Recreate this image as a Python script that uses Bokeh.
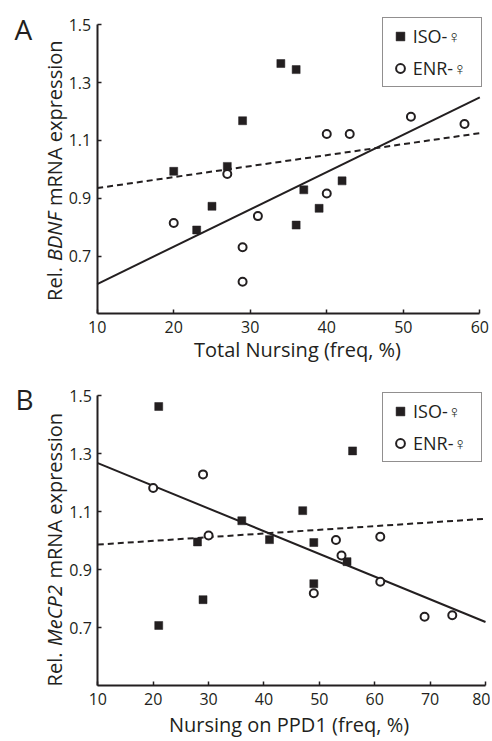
import numpy as np
from bokeh.plotting import figure
from bokeh.models import Range1d, FixedTicker, Label, Legend, LegendItem
from bokeh.layouts import column
from bokeh.embed import file_html
from bokeh.resources import INLINE

FONT = "Open Sans"
INK = "#231f20"

# ---------------- Panel A data ----------------
a_iso_x = [20, 23, 25, 27, 29, 34, 36, 36, 37, 39, 42]
a_iso_y = [0.993, 0.790, 0.872, 1.010, 1.168, 1.366, 1.345, 0.807, 0.929, 0.865, 0.960]
a_enr_x = [20, 27, 29, 29, 31, 40, 40, 43, 51, 58]
a_enr_y = [0.814, 0.984, 0.730, 0.611, 0.838, 1.122, 0.916, 1.122, 1.182, 1.157]
a_fit_solid_x = [10, 60]
a_fit_solid_y = [0.603, 1.249]
a_fit_dashed_x = [10, 60]
a_fit_dashed_y = [0.935, 1.125]
a_xticks = [10, 20, 30, 40, 50, 60]

# ---------------- Panel B data ----------------
b_iso_x = [21, 21, 28, 29, 36, 41, 47, 49, 49, 55, 56]
b_iso_y = [1.462, 0.707, 0.995, 0.796, 1.068, 1.003, 1.103, 0.993, 0.851, 0.927, 1.309]
b_enr_x = [20, 29, 30, 49, 53, 54, 61, 61, 69, 74]
b_enr_y = [1.181, 1.228, 1.017, 0.818, 1.002, 0.948, 1.013, 0.858, 0.737, 0.742]
b_fit_solid_x = [10, 80]
b_fit_solid_y = [1.267, 0.719]
b_fit_dashed_x = [10, 80]
b_fit_dashed_y = [0.986, 1.075]
b_xticks = [10, 20, 30, 40, 50, 60, 70, 80]

yticks = [0.7, 0.9, 1.1, 1.3, 1.5]
ytick_labels = ["0.7", "0.9", "1.1", "1.3", "1.5"]
y_bounds = (0.5, 1.5)
legend_labels = ["ISO-\u2640", "ENR-\u2640"]

W = 490
MID = 0.39  # "middle" anchor sits about 0.39 em above the baseline


class Panel:
    """Figure whose frame covers the whole canvas; axes sit at fixed locations."""

    def __init__(self, height, xpx, xval, ypx, yval, xticks):
        (px0, px1), (v0, v1) = xpx, xval
        sx = (px1 - px0) / (v1 - v0)
        x_start = v0 - px0 / sx
        x_end = v0 + (W - px0) / sx
        (py0, py1), (w0, w1) = ypx, yval   # py0 -> w0 (top), py1 -> w1 (bottom)
        sy = (py1 - py0) / (w0 - w1)
        y_top = w0 + py0 / sy
        y_bot = w0 - (height - py0) / sy
        self.fx = lambda px: x_start + px / sx
        self.fy = lambda py: y_top - py / sy
        p = figure(width=W, height=height, x_range=Range1d(x_start, x_end),
                   y_range=Range1d(y_bot, y_top), output_backend="svg",
                   toolbar_location=None, min_border=0, min_border_left=0,
                   min_border_right=0, min_border_top=0, min_border_bottom=0,
                   outline_line_color=None, background_fill_color="white",
                   border_fill_color="white")
        p.title.visible = False
        p.xgrid.visible = False
        p.ygrid.visible = False
        p.xaxis.fixed_location = y_bounds[0]
        p.xaxis.bounds = (xticks[0], xticks[-1])
        p.yaxis.fixed_location = xticks[0]
        p.yaxis.bounds = y_bounds
        p.xaxis.ticker = FixedTicker(ticks=xticks)
        p.xaxis.major_label_overrides = {t: str(t) for t in xticks}
        p.yaxis.ticker = FixedTicker(ticks=yticks)
        p.yaxis.major_label_overrides = dict(zip(yticks, ytick_labels))
        for ax in p.axis:
            ax.axis_line_width = 2
            ax.axis_line_color = INK
            ax.major_tick_in = 4
            ax.major_tick_out = 0
            ax.major_tick_line_width = 1.5
            ax.major_tick_line_color = INK
            ax.minor_tick_line_color = None
            ax.major_label_text_font = FONT
            ax.major_label_text_font_size = "16px"
            ax.major_label_text_color = INK
        p.yaxis.major_label_standoff = 6
        p.xaxis.major_label_standoff = 7
        self.p = p

    def label(self, px, py, text, size, **kw):
        self.p.add_layout(Label(x=self.fx(px), y=self.fy(py), text=text, text_font=FONT,
                                text_font_size=f"{size}px", text_color=INK, **kw))

    def hlabel(self, px, baseline, text, size, align="left"):
        self.label(px, baseline - MID * size, text, size, text_align=align,
                   text_baseline="middle")

    def ylabel(self, px, py_center, gene, half, before, after):
        rot = dict(angle=np.pi / 2, text_baseline="middle")
        self.label(px, py_center, gene, 20, text_align="center",
                   text_font_style="italic", **rot)
        self.label(px, py_center + half + 5, before, 20, text_align="right", **rot)
        self.label(px, py_center - half - 5, after, 20, text_align="left", **rot)

    def draw(self, iso_x, iso_y, enr_x, enr_y, sx, sy, dx, dy, legend_loc):
        p = self.p
        p.line(sx, sy, line_width=2, line_color=INK)
        p.line(dx, dy, line_width=2, line_color=INK, line_dash="6 4")
        r_iso = p.scatter(iso_x, iso_y, marker="square", size=8, fill_color=INK,
                          line_color=INK, line_width=0.5)
        r_enr = p.scatter(enr_x, enr_y, marker="circle", size=8, fill_color="white",
                          line_color=INK, line_width=2)
        leg = Legend(items=[LegendItem(label=legend_labels[0], renderers=[r_iso]),
                            LegendItem(label=legend_labels[1], renderers=[r_enr])],
                     location=legend_loc, orientation="vertical",
                     border_line_color=INK, border_line_width=1.5,
                     background_fill_color="white", background_fill_alpha=1.0,
                     padding=6, spacing=8, margin=0,
                     glyph_width=22, glyph_height=24, label_height=24, label_width=62,
                     label_standoff=2, label_text_font=FONT,
                     label_text_font_size="18px", label_text_color=INK)
        p.add_layout(leg)


# ---------------- Panel A ----------------
A = Panel(370, (96.7, 479.3), (10, 60), (24.3, 313.3), (1.5, 0.5), a_xticks)
A.draw(a_iso_x, a_iso_y, a_enr_x, a_enr_y, a_fit_solid_x, a_fit_solid_y,
       a_fit_dashed_x, a_fit_dashed_y, (381.7, 370 - 87.3))
A.hlabel(14, 39, "A", 28)
A.hlabel(297, 356.7, "Total Nursing (freq, %)", 20, align="center")
A.ylabel(54, 236, "BDNF", 25.5, "Rel.", "mRNA expression")

# ---------------- Panel B ----------------
HB = 369
B = Panel(HB, (97.3, 485), (10, 80), (25, 315), (1.5, 0.5), b_xticks)
B.draw(b_iso_x, b_iso_y, b_enr_x, b_enr_y, b_fit_solid_x, b_fit_solid_y,
       b_fit_dashed_x, b_fit_dashed_y, (382, HB - 92))
B.hlabel(15, 39.3, "B", 28)
B.hlabel(288.5, 362, "Nursing on PPD1 (freq, %)", 20, align="center")
B.ylabel(54, 245, "MeCP2", 32, "Rel.", "mRNA expression")

layout = column(A.p, B.p)
open("out.html", "w").write(file_html(layout, INLINE))
